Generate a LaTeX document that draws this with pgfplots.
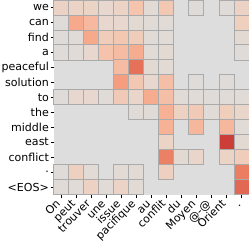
\documentclass[border=0pt]{standalone}
\usepackage{pgfplots}
\pgfplotsset{compat=1.18}
\usepackage{fontspec}
\setmainfont{DejaVu Sans}
\definecolor{bggray}{RGB}{221,221,221}
\definecolor{cellborder}{RGB}{170,170,170}
\begin{document}
\begin{tikzpicture}
\begin{axis}[
  scale only axis,
  width=195bp, height=194bp,
  xmin=-0.5, xmax=12.5, ymin=-0.5, ymax=12.5,
  y dir=reverse,
  axis background/.style={fill=bggray},
  axis line style={draw=none},
  xtick={0,...,12}, ytick={0,...,12},
  xticklabels={On,peut,trouver,une,issue,pacifique,au,conflit,du,Moyen,@-@,Orient,.},
  yticklabels={we,can,find,a,peaceful,solution,to,the,middle,east,conflict,.,<EOS>},
  xtick pos=left, ytick pos=left,
  tick align=outside,
  major tick length=3bp,
  tick style={black, line width=0.6bp},
  tick label style={font=\fontsize{11bp}{13bp}\selectfont, inner sep=1.5bp},
  x tick label style={rotate=45, anchor=base east, inner sep=0pt},
  xticklabel shift=7bp,
  colormap={cw}{rgb255(0cm)=(221,221,221); rgb255(1cm)=(236,211,197); rgb255(2cm)=(245,196,173); rgb255(3cm)=(247,177,148); rgb255(4cm)=(244,154,123); rgb255(5cm)=(236,127,99); rgb255(6cm)=(222,96,77); rgb255(7cm)=(203,62,56); rgb255(8cm)=(180,4,38)},
  point meta min=0, point meta max=1,
]
\addplot[scatter, only marks, mark=square*, mark size=7.5bp,
  scatter src=explicit,
  scatter/use mapped color={draw=cellborder, fill=mapped color},
  mark options={line width=0.8bp}]
table[x=x, y=y, meta=v] {
x y v
0 0 0.13
1 0 0.12
2 0 0.12
3 0 0.08
4 0 0.12
5 0 0.25
6 0 0.04
7 0 0.22
9 0 0.02
11 0 0.02
12 0 0.13
0 1 0.02
1 1 0.42
2 1 0.32
3 1 0.08
4 1 0.08
5 1 0.05
6 1 0.03
7 1 0.03
12 1 0.16
0 2 0.02
1 2 0.03
2 2 0.42
3 2 0.18
4 2 0.22
5 2 0.18
6 2 0.03
7 2 0.03
12 2 0.05
0 3 0.02
1 3 0.03
2 3 0.08
3 3 0.26
4 3 0.30
5 3 0.40
6 3 0.03
7 3 0.05
12 3 0.02
4 4 0.30
5 4 0.68
6 4 0.05
7 4 0.04
4 5 0.48
5 5 0.22
6 5 0.08
7 5 0.28
9 5 0.02
11 5 0.02
0 6 0.02
1 6 0.08
2 6 0.08
3 6 0.03
4 6 0.20
5 6 0.10
6 6 0.40
7 6 0.28
8 6 0.03
9 6 0.03
10 6 0.02
11 6 0.03
12 6 0.03
5 7 0.03
6 7 0.03
7 7 0.37
8 7 0.14
9 7 0.20
10 7 0.03
11 7 0.17
12 7 0.10
7 8 0.37
9 8 0.33
11 8 0.33
12 8 0.03
7 9 0.12
11 9 0.87
12 9 0.05
7 10 0.62
8 10 0.05
9 10 0.10
11 10 0.12
12 10 0.18
0 11 0.02
1 11 0.15
2 11 0.04
4 11 0.04
5 11 0.04
7 11 0.15
12 11 0.63
0 12 0.03
1 12 0.03
2 12 0.14
3 12 0.03
4 12 0.12
5 12 0.04
12 12 0.72
};
\end{axis}
\end{tikzpicture}
\end{document}
